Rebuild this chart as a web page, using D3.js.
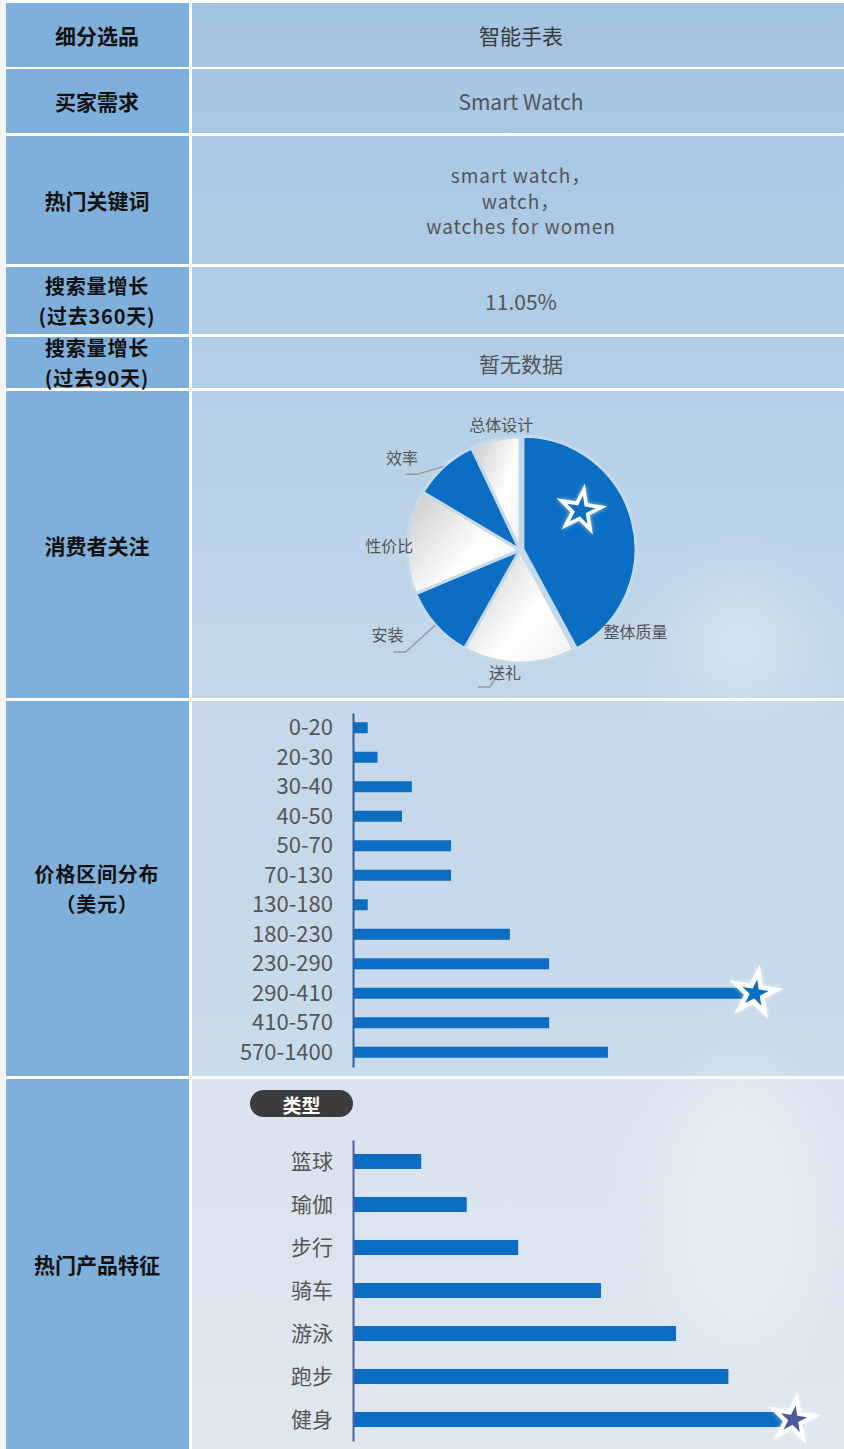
<!DOCTYPE html>
<html>
<head>
<meta charset="utf-8">
<script src="https://cdn.jsdelivr.net/npm/d3@7"></script>
<style>
  body { margin: 0; background: #f4f4f4; }
  text { font-family: "Noto Sans CJK SC", "Noto Sans", sans-serif; }
</style>
</head>
<body>
<div id="chart"></div>
<script>
// table text
var rowNames = [
  ["细分选品"], ["买家需求"], ["热门关键词"],
  ["搜索量增长", "(过去360天)"], ["搜索量增长", "(过去90天)"],
  ["消费者关注"], ["价格区间分布", "（美元）"], ["热门产品特征"]
];
var rowValues = [
  ["智能手表"], ["Smart Watch"],
  ["smart watch，", "watch，", "watches for women"],
  ["11.05%"], ["暂无数据"]
];

// consumer focus pie
var pieLabels = ["整体质量", "送礼", "安装", "性价比", "效率", "总体设计"];
var pieValues = [42, 16, 10.5, 14.8, 9.4, 7];

// price distribution (USD)
var priceRanges = ["0-20", "20-30", "30-40", "40-50", "50-70", "70-130", "130-180",
                   "180-230", "230-290", "290-410", "410-570", "570-1400"];
var priceValues = [3, 5, 12, 10, 20, 20, 3, 32, 40, 82, 40, 52];

// hot product features
var featureNames = ["篮球", "瑜伽", "步行", "骑车", "游泳", "跑步", "健身"];
var featureValues = [15, 25, 36.3, 54.5, 71, 82.5, 99];

var width = 844, height = 1449;
var blue = "#0b6ec3";

var svg = d3.select("#chart").append("svg")
    .attr("width", width)
    .attr("height", height);

var defs = svg.append("defs");

// right column tint
var bgGrad = defs.append("linearGradient").attr("id", "bgGrad")
    .attr("gradientUnits", "userSpaceOnUse")
    .attr("x1", 0).attr("y1", 0).attr("x2", 0).attr("y2", 1076);
bgGrad.append("stop").attr("offset", 0).attr("stop-color", "#a3c4e2");
bgGrad.append("stop").attr("offset", 0.35).attr("stop-color", "#b3cfe7");
bgGrad.append("stop").attr("offset", 0.65).attr("stop-color", "#c4d8ea");
bgGrad.append("stop").attr("offset", 1).attr("stop-color", "#c8dbeb");

var bgGrad2 = defs.append("linearGradient").attr("id", "bgGrad2")
    .attr("x1", 0).attr("y1", 0).attr("x2", 0).attr("y2", 1);
bgGrad2.append("stop").attr("offset", 0).attr("stop-color", "#d8e3ee");
bgGrad2.append("stop").attr("offset", 1).attr("stop-color", "#dfe7ef");

// silver gradient of the light pie slices
var silver = defs.append("linearGradient").attr("id", "silver")
    .attr("x1", 0).attr("y1", 0.1).attr("x2", 1).attr("y2", 0.9);
silver.append("stop").attr("offset", 0).attr("stop-color", "#cdcdcd");
silver.append("stop").attr("offset", 0.6).attr("stop-color", "#ffffff");
silver.append("stop").attr("offset", 1).attr("stop-color", "#f2f2f2");

var blur = defs.append("filter").attr("id", "soft")
    .attr("x", "-50%").attr("y", "-50%").attr("width", "200%").attr("height", "200%");
blur.append("feGaussianBlur").attr("stdDeviation", 30);

var starGlow = defs.append("filter").attr("id", "starGlow")
    .attr("x", "-50%").attr("y", "-50%").attr("width", "200%").attr("height", "200%");
starGlow.append("feGaussianBlur").attr("stdDeviation", 2);

// table rows (top, bottom)
var rowTop = [3, 69, 136, 267, 337, 391, 701, 1079];
var rowBot = [67, 133, 264, 334, 388, 698, 1076, 1449];

svg.append("rect").attr("x", 6).attr("y", 0).attr("width", width - 6).attr("height", height)
   .attr("fill", "#ffffff");

svg.append("g").selectAll("rect")
   .data(rowNames)
   .enter().append("rect")
   .attr("x", 6)
   .attr("y", function(d, i) { return rowTop[i]; })
   .attr("width", 183)
   .attr("height", function(d, i) { return rowBot[i] - rowTop[i]; })
   .attr("fill", "#7fb0db");

svg.append("g").selectAll("rect")
   .data(rowNames)
   .enter().append("rect")
   .attr("x", 192)
   .attr("y", function(d, i) { return rowTop[i]; })
   .attr("width", width - 192)
   .attr("height", function(d, i) { return rowBot[i] - rowTop[i]; })
   .attr("fill", function(d, i) { return i == 7 ? "url(#bgGrad2)" : "url(#bgGrad)"; });

// faint background shapes
var glow = svg.append("g").attr("filter", "url(#soft)").attr("opacity", 0.3);
glow.append("ellipse").attr("cx", 740).attr("cy", 1200).attr("rx", 80).attr("ry", 140).attr("fill", "#ffffff");
glow.append("ellipse").attr("cx", 740).attr("cy", 640).attr("rx", 60).attr("ry", 60).attr("fill", "#ffffff");

// left labels
svg.append("g").selectAll("g")
   .data(rowNames)
   .enter().append("g")
   .each(function(lines, i) {
     var cy = (rowTop[i] + rowBot[i]) / 2;
     var two = lines.length > 1;
     var lh = 29.2;
     d3.select(this).selectAll("text")
       .data(lines)
       .enter().append("text")
       .attr("x", 97)
       .attr("y", function(t, j) { return cy + (j - (lines.length - 1) / 2) * lh; })
       .attr("text-anchor", "middle")
       .attr("dominant-baseline", "central")
       .attr("font-size", two ? 20 : 21)
       .attr("letter-spacing", two ? 0.8 : 0)
       .attr("font-weight", 700)
       .attr("fill", "#111")
       .text(function(t) { return t; });
   });

// right text values
svg.append("g").selectAll("g")
   .data(rowValues)
   .enter().append("g")
   .each(function(lines, i) {
     var cy = (rowTop[i] + rowBot[i]) / 2;
     var lh = 25.5;
     var multi = lines.length > 1;
     d3.select(this).selectAll("text")
       .data(lines)
       .enter().append("text")
       .attr("x", 521)
       .attr("y", function(t, j) { return cy + (j - (lines.length - 1) / 2) * lh; })
       .attr("text-anchor", "middle")
       .attr("dominant-baseline", "central")
       .attr("font-size", multi ? 19 : 21)
       .attr("letter-spacing", multi ? 1 : 0)
       .attr("fill", i == 0 ? "#3a3a3a" : "#555")
       .text(function(t) { return t; });
   });

// ---------- pie ----------
var pieR = 113, pieCx = 520, pieCy = 550;
var pie = d3.pie().sort(null).value(function(d) { return d; })(pieValues);
var arc = d3.arc().innerRadius(0).outerRadius(pieR);

var pieG = svg.append("g").attr("transform", "translate(" + pieCx + "," + pieCy + ")");

function midA(d) { return (d.startAngle + d.endAngle) / 2; }

pieG.selectAll("path")
    .data(pie)
    .enter().append("path")
    .attr("d", arc)
    .attr("transform", function(d, i) {
      var off = i == 0 ? 3 : 0;
      return "translate(" + (off * Math.sin(midA(d))) + "," + (-off * Math.cos(midA(d))) + ")";
    })
    .attr("fill", function(d, i) { return i % 2 == 0 ? blue : "url(#silver)"; })
    .attr("stroke", "#c5d9ea")
    .attr("stroke-width", 3)
    .attr("stroke-linejoin", "round");

// label placement relative to the arc edge
var labelOffset = {
  "整体质量": { dx: 6, dy: 109, line: null },
  "送礼": { dx: -14, dy: 9, line: [[-16, 4], [-29, 24], [-41, 24]] },
  "安装": { dx: -48, dy: 9, line: [[0, 0], [-30, 27], [-42, 27]] },
  "性价比": { dx: -18, dy: 3, line: null },
  "效率": { dx: -42, dy: -9, line: [[0, 0], [-27, 8], [-39, 8]] },
  "总体设计": { dx: 6, dy: -16, line: null }
};

var lineGen = d3.line();
pie.forEach(function(d, i) {
  var a = midA(d);
  var ex = pieR * Math.sin(a), ey = -pieR * Math.cos(a);
  var o = labelOffset[pieLabels[i]];
  if (o.line) {
    pieG.append("path")
        .attr("d", lineGen(o.line.map(function(p) { return [ex + p[0], ey + p[1]]; })))
        .attr("fill", "none")
        .attr("stroke", "#9a9a9a")
        .attr("stroke-width", 1.5);
  }
  pieG.append("text")
      .attr("x", ex + o.dx)
      .attr("y", ey + o.dy)
      .attr("text-anchor", "middle")
      .attr("dominant-baseline", "central")
      .attr("font-size", 16)
      .attr("fill", "#555")
      .text(pieLabels[i]);
});

// star marker helper
function drawStar(g, x, y, fill, outerR, innerR) {
  var outer = d3.symbol().type(d3.symbolStar).size(outerR * outerR / 0.8908);
  var inner = d3.symbol().type(d3.symbolStar).size(innerR * innerR / 0.8908);
  var s = g.append("g").attr("transform", "translate(" + x + "," + y + ") rotate(9)");
  s.append("path").attr("d", outer()).attr("fill", "#ffffff").attr("opacity", 0.6)
   .attr("filter", "url(#starGlow)");
  s.append("path").attr("d", outer()).attr("fill", "#ffffff");
  s.append("path").attr("d", inner()).attr("fill", fill);
}

// star on the biggest slice
var big = pie[0];
var starA = midA(big) - 0.33;
drawStar(svg, pieCx + 0.64 * pieR * Math.sin(starA), pieCy - 0.64 * pieR * Math.cos(starA), blue, 27, 15);

// ---------- price bars ----------
var axisX = 353;
var x1 = d3.scaleLinear().domain([0, 82]).range([axisX, 755]);
var y1 = d3.scalePoint().domain(priceRanges).range([713, 1067]).padding(0.5);

var g1 = svg.append("g");
g1.selectAll("rect")
  .data(priceValues)
  .enter().append("rect")
  .attr("x", axisX)
  .attr("y", function(d, i) { return y1(priceRanges[i]) - 5.5; })
  .attr("width", function(d) { return x1(d) - axisX; })
  .attr("height", 11)
  .attr("fill", blue);

var ax1 = g1.append("g")
  .attr("transform", "translate(" + axisX + ",0)")
  .call(d3.axisLeft(y1).tickSize(0).tickSizeOuter(0).tickPadding(20));
ax1.select(".domain").attr("stroke", "#2f5f9e").attr("stroke-width", 2);
ax1.selectAll("text")
   .attr("font-size", 22)
   .attr("fill", "#555")
   .attr("font-family", "\"Noto Sans CJK SC\", \"Noto Sans\", sans-serif");

var maxP = d3.maxIndex(priceValues);
drawStar(svg, x1(priceValues[maxP]), y1(priceRanges[maxP]), blue, 29, 14);

// ---------- feature bars ----------
var pill = svg.append("g");
pill.append("rect")
    .attr("x", 250).attr("y", 1090).attr("width", 103).attr("height", 27)
    .attr("rx", 13.5).attr("fill", "#3c3c3c");
pill.append("text")
    .attr("x", 301.5).attr("y", 1104)
    .attr("text-anchor", "middle").attr("dominant-baseline", "central")
    .attr("font-size", 19).attr("font-weight", 700).attr("fill", "#ffffff")
    .text("类型");

var x2 = d3.scaleLinear().domain([0, 100]).range([axisX, axisX + 455]);
var y2 = d3.scalePoint().domain(featureNames).range([1140, 1441]).padding(0.5);

var g2 = svg.append("g");
g2.selectAll("rect")
  .data(featureValues)
  .enter().append("rect")
  .attr("x", axisX)
  .attr("y", function(d, i) { return y2(featureNames[i]) - 7.5; })
  .attr("width", function(d) { return x2(d) - axisX; })
  .attr("height", 15)
  .attr("fill", blue);

var ax2 = g2.append("g")
  .attr("transform", "translate(" + axisX + ",0)")
  .call(d3.axisLeft(y2).tickSize(0).tickSizeOuter(0).tickPadding(20));
ax2.select(".domain").attr("stroke", "#4f5ea6").attr("stroke-width", 2);
ax2.selectAll("text")
   .attr("font-size", 21)
   .attr("fill", "#555")
   .attr("font-family", "\"Noto Sans CJK SC\", \"Noto Sans\", sans-serif");

var maxF = d3.maxIndex(featureValues);
drawStar(svg, x2(featureValues[maxF]) - 10, y2(featureNames[maxF]), "#4b5a9e", 28, 14);
</script>
</body>
</html>
